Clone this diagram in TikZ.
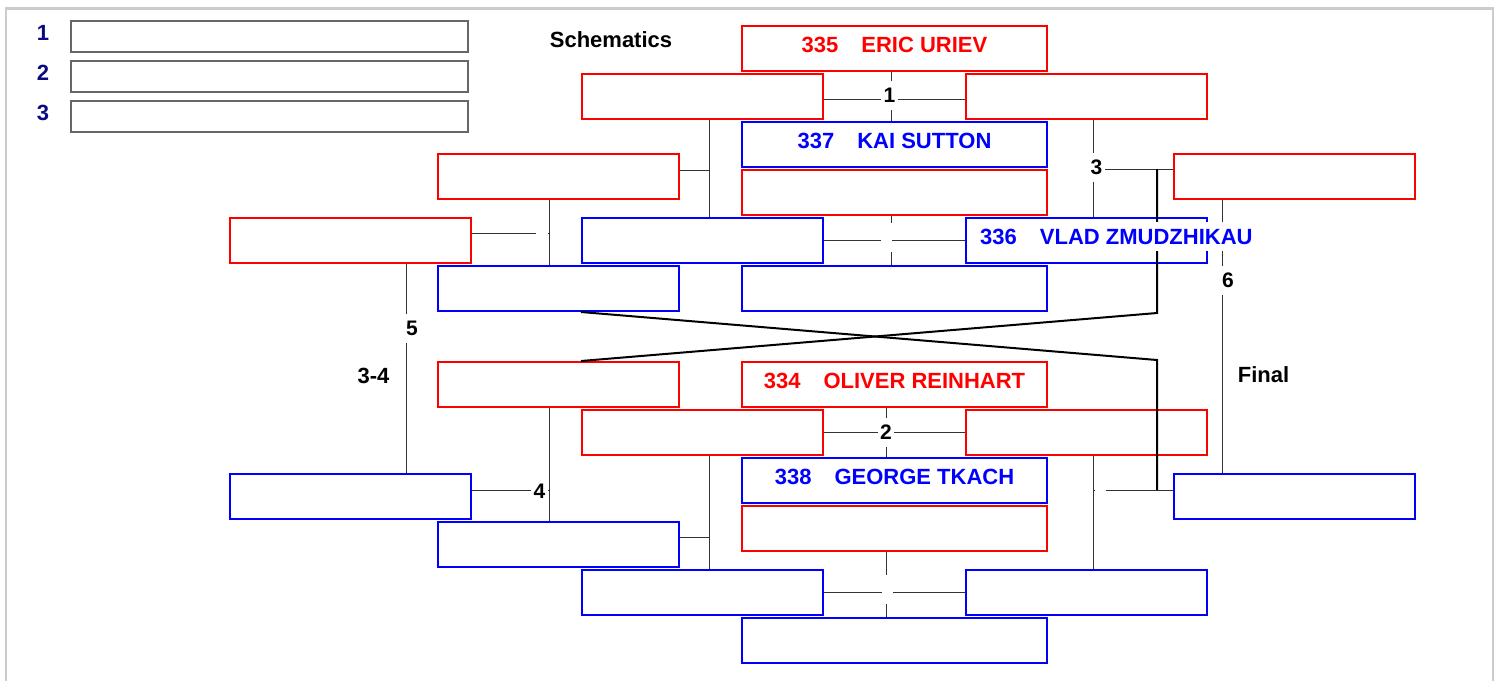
\documentclass[tikz,border=0pt]{standalone}
\usepackage{fontspec}
\setmainfont{Liberation Sans}
\usepackage{tikz}
\definecolor{navy}{RGB}{10,10,130}

\begin{document}
\begin{tikzpicture}[x=1pt,y=-1pt,
    txt/.style={font=\fontsize{22}{26}\selectfont\bfseries},
    wide/.style={draw=#1,line width=2pt,minimum width=305pt,minimum height=45pt,inner sep=0pt},
    narrow/.style={wide=#1,minimum width=241pt},
    legbox/.style={draw=black!60,line width=2pt,minimum width=397pt,minimum height=31pt,inner sep=0pt},
    nm/.style={txt,text=#1,fill=white,inner sep=1pt,minimum height=29pt},
    lab/.style={txt,font=\fontsize{21}{25}\selectfont\bfseries,fill=white,inner xsep=2.5pt,inner ysep=0pt,minimum height=29pt},
    elab/.style={lab,minimum width=11pt},
    ln/.style={black!80,line width=1pt},
    thk/.style={black,line width=2pt}]
  \useasboundingbox (0,0) rectangle (1499,681);
  \draw[black!20,line width=2.5pt] (6,681) -- (6,8.5) -- (1493,8.5) -- (1493,681);

  % legend
  \foreach \i in {1,2,3}{
    \node[txt,text=navy] (num\i) at (43,{33+40*(\i-1)}) {\i};
    \node[legbox] (leg\i) at (269.5,{36.5+40*(\i-1)}) {};
  }
  \node[txt] (sch) at (611,40) {Schematics};
  \node[txt] (l34) at (373.5,375.5) {3-4};
  \node[txt] (fin) at (1263.5,375) {Final};

  % boxes
  \foreach \n/\y/\c in {ta/48.5/red,td/144.5/blue,te/192.5/red,th/288.5/blue,
                        ba/384.5/red,bd/480.5/blue,be/528.5/red,bh/640.5/blue}
    \node[wide=\c] (\n) at (894.5,\y) {};
  \foreach \n/\x/\y/\c in {tb/702.5/96.5/red,tc/1086.5/96.5/red,tf/702.5/240.5/blue,
                           tg/1086.5/240.5/blue,ti/558.5/176.5/red,tj/350.5/240.5/red,
                           tk/558.5/288.5/blue,tl/1294.5/176.5/red,
                           bb/702.5/432.5/red,bc/1086.5/432.5/red,bf/702.5/592.5/blue,
                           bg/1086.5/592.5/blue,bi/558.5/384.5/red,bj/350.5/496.5/blue,
                           bk/558.5/544.5/blue,bl/1294.5/496.5/blue}
    \node[narrow=\c] (\n) at (\x,\y) {};

  % junctions
  \coordinate (q1) at (891,99);
  \coordinate (q2) at (891,240);
  \coordinate (q3) at (709,170);
  \coordinate (q4) at (1093,169);
  \coordinate (q5) at (549,233);
  \coordinate (q6) at (406,327);
  \coordinate (q7) at (1222,280);
  \coordinate (p1) at (886,432);
  \coordinate (p2) at (886,592);
  \coordinate (p3) at (709,537);
  \coordinate (p4) at (1093,490);
  \coordinate (p5) at (549,490);
  \coordinate (x1) at (1157,313);
  \coordinate (x2) at (1157,360);

  \draw[ln] (ta.south -| q1) -- (td.north -| q1) (tb.east |- q1) -- (tc.west |- q1);
  \draw[ln] (te.south -| q2) -- (th.north -| q2) (tf.east |- q2) -- (tg.west |- q2);
  \draw[ln] (tb.south -| q3) -- (tf.north -| q3) (ti.east |- q3) -- (q3);
  \draw[ln] (tc.south -| q4) -- (tg.north -| q4) (q4) -- (tl.west |- q4);
  \draw[ln] (ti.south -| q5) -- (tk.north -| q5) (tj.east |- q5) -- (q5);
  \draw[ln] (tj.south -| q6) -- (bj.north -| q6);
  \draw[ln] (tl.south -| q7) -- (bl.north -| q7);
  \draw[ln] (ba.south -| p1) -- (bd.north -| p1) (bb.east |- p1) -- (bc.west |- p1);
  \draw[ln] (be.south -| p2) -- (bh.north -| p2) (bf.east |- p2) -- (bg.west |- p2);
  \draw[ln] (bb.south -| p3) -- (bf.north -| p3) (bk.east |- p3) -- (p3);
  \draw[ln] (bc.south -| p4) -- (bg.north -| p4) (p4) -- (bl.west |- p4);
  \draw[ln] (bi.south -| p5) -- (bk.north -| p5) (bj.east |- p5) -- (p5);
  % crossing
  \draw[thk] (x1 |- q4) -- (x1) -- (bi.north -| bb.west);
  \draw[thk] (tk.south -| tf.west) -- (x2) -- (x2 |- p4);

  % labels
  \node[lab,anchor=west] (lab1) at (881,95) {1};
  \node[elab,anchor=west] (e1) at (881,237.5) {};
  \node[lab,anchor=east] (lab3) at (1105,167) {3};
  \node[elab,anchor=east,minimum width=12pt] (e2) at (548,233) {};
  \node[lab,anchor=west] (lab5) at (403.5,328) {5};
  \node[lab,anchor=west] (lab6) at (1219.5,280) {6};
  \node[lab] (lab2) at (886,432) {2};
  \node[elab] (e3) at (887,589) {};
  \node[lab,anchor=east] (lab4) at (548,491) {4};
  \node[elab,anchor=east] (e4) at (1106,490) {};

  % names
  \node[nm=red] (nta) at ([yshift=4pt]ta.center) {335\hspace{23pt}ERIC URIEV};
  \node[nm=blue] (ntd) at ([yshift=4pt]td.center) {337\hspace{23pt}KAI SUTTON};
  \node[nm=blue,anchor=west] (ntg) at ([xshift=14pt,yshift=4pt]tg.west) {336\hspace{23pt}VLAD ZMUDZHIKAU};
  \node[nm=red] (nba) at ([yshift=4pt]ba.center) {334\hspace{23pt}OLIVER REINHART};
  \node[nm=blue] (nbd) at ([yshift=4pt]bd.center) {338\hspace{23pt}GEORGE TKACH};
\end{tikzpicture}
\end{document}
